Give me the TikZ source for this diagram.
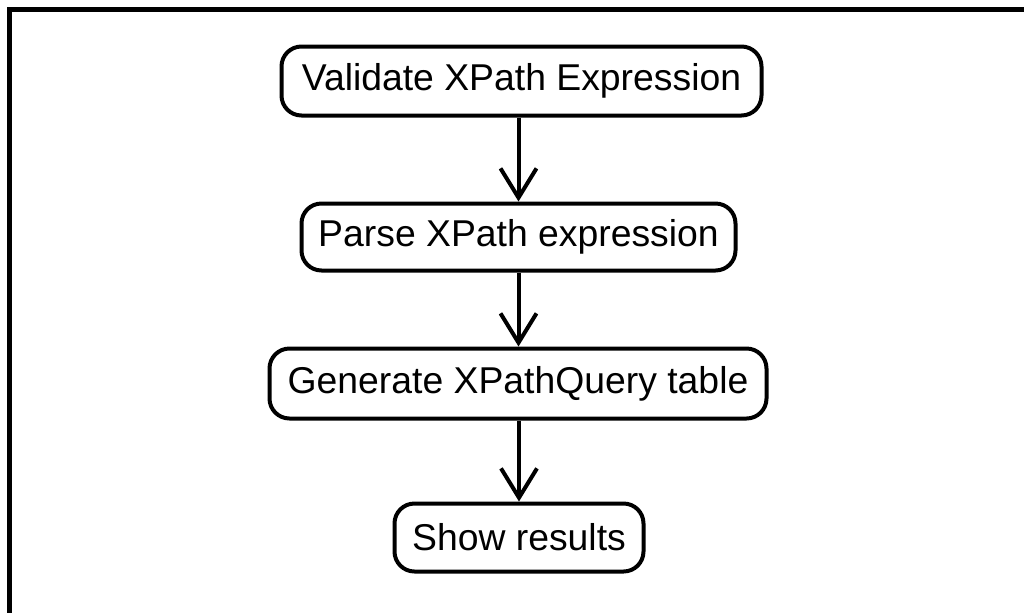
\documentclass[tikz,border=0pt]{standalone}
\usepackage{fontspec}
\setmainfont{Liberation Sans}
\usetikzlibrary{arrows.meta}
\tikzset{
  actbox/.style={draw=black, line width=3pt, rounded corners=15pt, fill=white,
    inner sep=0pt, align=center, font=\fontsize{28}{33}\selectfont},
  flowarr/.style={line width=3pt, -{Straight Barb[length=22pt, width=27pt, line width=3pt]}},
  frameline/.style={line width=3.75pt}
}
\begin{document}
\begin{tikzpicture}[x=0.75pt, y=-0.75pt]
\useasboundingbox (0,0) rectangle (1024,612);
\fill[white] (0,0) rectangle (1024,612);
\draw[frameline] (9.5,620) -- (9.5,9.5) -- (1030,9.5);
\node[actbox, minimum width=480*0.75pt, minimum height=69*0.75pt] (b1) at (521.5,81) {Validate XPath Expression};
\node[actbox, minimum width=434*0.75pt, minimum height=67*0.75pt] (b2) at (518.5,237) {Parse XPath expression};
\node[actbox, minimum width=497*0.75pt, minimum height=70*0.75pt] (b3) at (518,383.5) {Generate XPathQuery table};
\node[actbox, minimum width=249*0.75pt, minimum height=68*0.75pt] (b4) at (519,537.5) {Show results};
\draw[flowarr] (b2.north |- b1.south) -- (b2.north);
\draw[flowarr] (b2.south) -- (b2.south |- b3.north);
\draw[flowarr] (b3.south -| b4.north) -- (b4.north);
\end{tikzpicture}
\end{document}
